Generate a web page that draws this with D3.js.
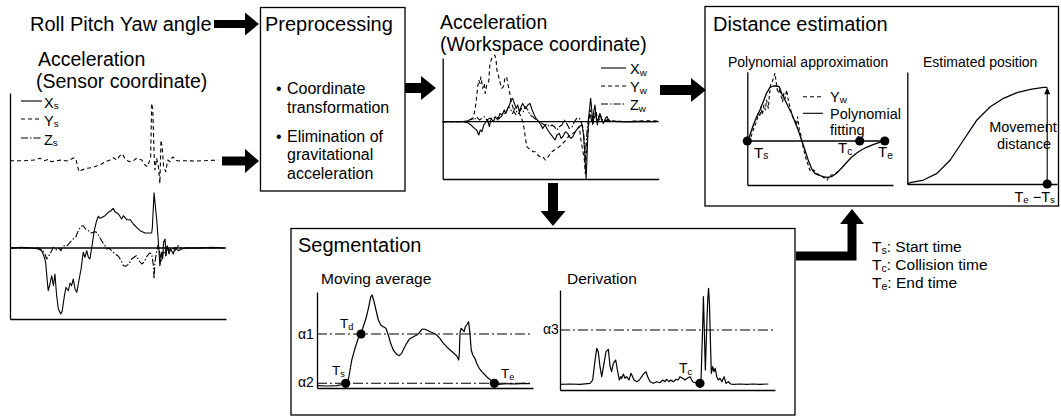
<!DOCTYPE html>
<html>
<head>
<meta charset="utf-8">
<script src="https://cdn.jsdelivr.net/npm/d3@7"></script>
<style>
body { margin: 0; background: #fff; }
svg { display: block; font-family: "Liberation Sans", Arial, Helvetica, sans-serif; }
</style>
</head>
<body>
<svg></svg>
<script>
// ---- data (time 0..100, value in arbitrary units) ----
let xsSensor = [[0,0],[5.4,0.7],[10,0],[13.1,-1],[14.7,-2.7],[15.9,-9.3],[16.5,-14.3],[17.3,-34.3],[17.7,-42.7],[18.5,-36],[19.3,-27.7],[20.1,-37.7],[20.8,-26],[21.6,-47.7],[22.4,-61],[23.5,-66],[24.2,-62.7],[25.2,-47.7],[25.9,-39.3],[27,-42.7],[27.8,-35],[28.5,-37.7],[29.3,-31],[30.1,-41],[30.9,-44.3],[31.9,-32.7],[32.9,-21],[33.9,-4.3],[34.7,-9.3],[35.5,-2.7],[36.3,-9.3],[37,-11],[38.1,4],[39,17.3],[40.1,27.3],[40.9,31.7],[41.7,29.7],[42.7,30.7],[44,32.3],[45.5,35.7],[46.8,37.3],[47.8,39.7],[48.6,36.3],[50.2,34],[51.7,29],[52.5,32.3],[54,28.3],[55.6,28.3],[57.1,24],[58.6,20.7],[60.2,17.3],[62.5,15],[65.6,15],[65.9,20.7],[66.7,55.3],[67.1,45.7],[67.9,29],[68.7,5.7],[69.1,-7.7],[69.4,-17.7],[70.2,-4.3],[70.7,-11],[71.1,5.7],[71.8,9],[72.2,-7.7],[72.8,2.3],[73.6,-6],[74.4,-1],[75.6,-6],[76.4,0.7],[77.9,-2.7],[79.5,-1],[81.8,0],[87.2,0],[93.4,0.7],[98.8,0]];
let ysSensor = [[0,0.3],[6.9,0.3],[11.6,1],[13.9,2.7],[15.9,0.3],[17.7,1.7],[19.3,-0.7],[21.6,0.3],[23.9,1],[26.2,0],[28.5,2],[29.6,3.3],[30.6,1],[31.9,-10.7],[33.2,-9],[35.5,-7.3],[37.8,-6.7],[40.1,-5],[42.4,-3],[44,-0.7],[46.3,1],[47.8,3.3],[49.4,1],[50.9,5.3],[52,7],[53.2,2.7],[55.1,-0.7],[57.1,0.3],[58.6,2.7],[61,1],[62.5,-4],[63.7,-5.7],[64.4,-0.7],[65.1,2.7],[65.6,57.7],[66.1,51],[66.7,7.7],[67.1,-9],[67.9,2.7],[68.7,-5.7],[69.4,-22.3],[69.9,21],[70.5,12.7],[71.1,-5.7],[72.1,-10.7],[73,1],[74.1,-0.7],[74.8,2.7],[75.6,4],[76.4,1],[77.9,0],[81,0.3],[85.6,0],[90.3,0.3],[96.4,1]];
let zsSensor = [[0,0],[13.1,0],[14.7,-1.7],[16.2,-6],[17,-11],[18.5,-6],[19.3,-2.7],[20.1,0.7],[20.8,-0.3],[21.6,-1.7],[22.7,-0.3],[23.6,-2.7],[24.2,0.7],[25.2,2.3],[26.2,1.7],[27.8,5.7],[29.3,9],[30.4,10.7],[31.6,17.3],[32.9,21.7],[33.9,22.3],[35,19],[36.3,17.3],[37.5,15],[38.6,15.7],[39.7,16.3],[40.9,13],[42.4,7.3],[44,2.3],[44.8,-1],[45.8,-0.3],[47.1,-2.7],[48.6,-6],[50.2,-8.3],[51.7,-13.7],[52.5,-17.7],[53.5,-18.3],[55.1,-16],[56.3,-11],[57.4,-9.3],[58.5,-7.7],[59.7,-12.7],[61,-16],[62,-14.3],[63.6,-7.7],[64.7,-5],[65.6,-6],[66.4,-17.7],[66.7,-31],[67.1,-14.3],[67.9,-2.7],[68.7,4],[69.4,-6],[70.2,-12.7],[71,-2.7],[72.1,-7.7],[72.8,2.3],[73.6,-2.7],[74.8,0.7],[76.4,-2.7],[77.9,2.3],[79.5,0],[84.1,0],[98.8,0]];
let ysOffset = 87; // Ys is drawn shifted above the other two

let xwWork = [[0,0],[9.3,0],[11.6,-1],[13.1,-3.3],[14.7,-6.7],[15.7,-8.3],[16.7,-13.3],[17.4,-8.3],[18.2,-10],[19,-3.3],[20.1,0],[20.8,1.7],[21.6,-5],[22.4,3.3],[23.5,0],[24.4,5],[25.5,1.7],[26.5,8.3],[27.5,6.7],[28.5,11.7],[29.3,8.3],[30.1,13.3],[30.9,16.7],[31.6,21.7],[32.4,23.3],[33.2,18.3],[34,13.3],[34.7,16.7],[35.5,10],[36.3,15],[37,18.3],[38.3,13.3],[39.4,16.7],[40.4,18.3],[41.4,11.7],[42.4,6.7],[43.2,3.3],[44.4,0],[45.5,-3.3],[46.3,-6.7],[47.4,-3.3],[48.6,-8.3],[49.7,-11.7],[50.9,-15],[52,-18.3],[52.9,-13.3],[54,-11.7],[54.8,-16.7],[55.6,-15],[56.8,-10],[57.9,-11.7],[58.6,-15],[59.4,-16.7],[60.2,-15],[61.4,-10],[62.5,-6.7],[63.6,-4.3],[64.5,-3.3],[65.1,-11.7],[65.7,-28.3],[66,-41.7],[66.4,-56.7],[66.7,-41.7],[67.1,-18.3],[67.6,5],[68.1,15],[68.5,23.3],[69,11.7],[69.4,-1.7],[69.9,10],[70.5,16.7],[71,5],[71.6,-3.3],[72.2,5],[72.8,8.3],[73.6,1.7],[74.4,-1.7],[75.3,3.3],[76.1,5],[77.2,0],[78.7,0.7],[83.3,0],[89.5,0.3],[98.8,0]];
let ywWork = [[0,0],[6.2,0],[12.3,0.7],[13.9,3.3],[14.6,8.3],[15.4,18.3],[16.2,35],[16.7,41.7],[17.3,38.3],[17.7,45],[18.5,33.3],[19.3,38.3],[19.7,28.3],[20.4,36.7],[21.3,40],[21.9,58.3],[22.7,63.3],[23.4,65],[24.1,66.7],[24.7,61.7],[25.1,51.7],[25.9,45],[26.7,38.3],[27.3,33.3],[28.1,35],[28.8,43.3],[29.6,45],[30.1,38.3],[30.8,31.7],[31.6,21.7],[32.4,15],[33.1,10],[33.9,6.7],[34.7,8.3],[35.5,8.3],[36.3,5],[37.3,-1.7],[38.1,-13.3],[38.9,-25],[39.8,-26.7],[40.9,-28.3],[41.9,-30],[42.9,-30],[44,-33.3],[45,-35],[46.3,-35],[47.5,-38.3],[48.3,-36.7],[49.4,-33.3],[50.6,-30],[51.7,-28.3],[52.8,-26.7],[54,-25],[55.2,-22.3],[56.3,-20],[57.4,-18.3],[58.3,-14.3],[59.4,-13.3],[60.2,-11.7],[61.4,-10],[62.5,-6.7],[63.2,-5],[64,-18.3],[64.8,-28.3],[65.6,-38.3],[66,-51.7],[66.5,-31.7],[66.9,-18.3],[67.4,-8.3],[67.9,5],[68.3,11.7],[69,6.7],[69.7,-1.7],[70.4,5],[71,10],[71.8,1.7],[72.5,1.7],[73.3,5],[74.1,0],[75.6,1.7],[77.1,0],[80.2,0.7],[84.9,0],[89.5,0.7],[95.6,1],[99.5,0.7]];
let zwWork = [[0,0],[10.8,0],[12.3,1.7],[13.6,3.3],[14.7,1.7],[15.7,5],[17,1.7],[18.2,3.3],[19.3,5],[20.4,1.7],[21.6,3.3],[23.1,3.3],[24.7,5],[26.2,3.3],[27.8,6.7],[29.3,10],[30.6,15],[31.6,11.7],[32.4,8.3],[33.3,13.3],[34.3,10],[35.2,8.3],[36.3,13.3],[37.3,10],[38.3,15],[39.4,11.7],[40.4,6.7],[41.7,5],[43.2,1.7],[44.8,0],[46,-1.7],[47.1,-3.3],[48.3,-2.3],[49.4,-5],[50.6,-3.3],[51.7,-5],[52.8,-8.3],[54,-5],[55.2,-3.3],[56.3,1.7],[57.4,-1.7],[58.6,-6.7],[59.9,-5],[61,0],[62,3.3],[63.3,3.3],[64,0],[64.8,-5],[65.4,-15],[65.9,-38.3],[66.4,-21.7],[67,-5],[67.6,5],[68.2,8.3],[68.8,1.7],[69.4,-3.3],[70.1,5],[70.7,10],[71.5,0],[72.2,3.3],[73,6.7],[73.8,1.7],[74.8,0],[76.4,2.3],[77.9,0.7],[80.2,0],[86.4,0],[98.8,0.3]];

let ywPoly = [[0,0],[1.9,1],[3.9,9.3],[5.6,16],[6.8,19.3],[8,27.7],[9.2,24.3],[9.9,34.3],[10.9,26],[12.1,36],[13.1,31],[14,41],[15.3,32.7],[16,44.3],[16.9,56],[17.9,57.7],[18.9,62.7],[20.1,67.7],[20.8,61],[21.8,51],[22.8,47.7],[23.7,52.7],[24.7,44.3],[25.7,39.3],[26.6,47.7],[27.6,42.7],[28.6,51],[29.8,41],[31,34.3],[32.2,27.7],[33.4,22.7],[34.6,21],[35.8,16],[36.6,24.3],[37.8,11],[38.7,7.7],[39.9,-2.3],[41.2,-9],[42.6,-17.3],[44.3,-24],[45.5,-29],[46.7,-30.7],[48.4,-29],[50.4,-32.3],[52.3,-34],[54.7,-35.7],[56.4,-37.3],[58.1,-39],[59.5,-35],[61.2,-34],[63.7,-34],[65.4,-30.7],[66.8,-32.3]];
let polyFit = [[0,0],[1.9,6],[4.4,16],[6.8,24.3],[9.2,31],[11.6,39.3],[14,47.7],[16.5,53.7],[18.9,55],[21.3,55],[23.2,54.3],[24.9,47.7],[27.4,41],[29.8,34.3],[32.2,27.7],[34.6,19.3],[37,11],[39.5,1],[41.9,-9],[44.3,-19],[46.7,-27.3],[49.1,-32.3],[51.6,-34],[55.2,-35.7],[58.1,-36.3],[61.2,-35.7],[64.9,-32.3],[68.5,-27.3],[72.1,-21.7],[75.8,-16.3],[79.4,-12.3],[83,-9],[86.7,-6.3],[91.5,-3.7],[96.3,-1.3],[100,0]];
let polyEvents = [["s", 0], ["c", 81.8], ["e", 100]];

let position = [[0,0],[2.1,1.4],[11.6,4.1],[21.2,11],[30.7,24.8],[40.2,45.5],[49.8,66.2],[59.3,79.9],[68.8,88.6],[78.4,94.4],[87.9,97.9],[97.4,100],[100,100]];
let distanceEnd = 100;

let movingAvg = [[0,2.3],[4.5,2],[9.1,2.3],[13.3,4],[14.5,8],[15.3,18],[16.1,28],[17.6,39.7],[19.1,49.7],[20.4,54],[21.4,61.3],[22.7,69.7],[23.8,79.7],[24.9,91.3],[25.5,93],[26.4,86.3],[27.3,78],[28.4,68],[29.5,63],[30.7,61.3],[31.9,59.7],[33,53],[34.1,44.7],[35.3,38],[36.9,33.7],[38.1,32.3],[39.2,34.7],[40.3,39.7],[41.5,44.7],[42.7,48.7],[44.6,51.3],[46.2,53],[47.4,55.3],[48.5,58.7],[49.5,59],[50.8,58],[52.3,56.3],[54.2,54.7],[55.4,53],[56.9,49.7],[58.5,44.7],[60,41.3],[61.6,38],[63.4,34.7],[64.7,32],[65.6,28],[65.9,34.7],[66.2,54.7],[66.7,59.7],[67.5,58],[68.1,56.3],[68.7,61.3],[69.3,63],[70.2,66.3],[70.8,54.7],[71.4,38],[72.1,33],[73.1,29.7],[73.9,24.7],[75.1,19.7],[76.3,16.3],[77.8,13],[79.3,9.7],[80.9,7.3],[82.1,4.7],[83.9,3.7],[86.3,4],[89.4,4.3],[92.5,4],[95.5,4.7],[98.6,4.3]];
let alpha1 = 54, alpha2 = 4.7;
let segEvents = [["s", 13.3, alpha2], ["d", 20.4, alpha1], ["e", 82.1, alpha2]];

let derivation = [[0,5.7],[4.7,6],[9.3,5.7],[14,6.7],[15.2,10],[16.3,30],[17.1,41.7],[17.8,38.3],[18.6,23.3],[19.4,13.3],[20.2,23.3],[21.4,38.3],[22.5,40.7],[23.3,23.3],[24,18.3],[24.8,26.7],[25.9,30],[26.7,20],[27.6,10],[28.2,13.3],[28.7,11.7],[29.5,16],[30.2,11.7],[31,13.3],[32.1,10],[33,16.7],[33.8,13.3],[34.4,10],[35.7,8.3],[36.9,10],[38,13.3],[39.1,16.7],[40,18.3],[40.8,13.3],[41.9,8.3],[43.4,6.7],[45,8.3],[46.5,7.3],[47.8,10],[48.8,8.3],[49.6,10.7],[50.7,8.3],[51.5,10],[52.7,8.3],[54,10.7],[55,10],[55.8,13.3],[57.1,11.7],[58.1,10],[59.2,11.7],[60.5,13.3],[61.7,8.3],[62.8,7.3],[63.9,8.3],[64.8,6.7],[65.6,10],[66.4,66.7],[66.7,93.3],[67,70],[67.6,20],[68.2,60],[68.7,90],[69.1,101.7],[69.5,86.7],[69.9,53.3],[70.4,16.7],[71,23.3],[71.6,18.3],[72.2,21.7],[72.9,13.3],[73.6,10],[74.4,11.7],[75.3,8.3],[76.3,13.3],[77.2,6.7],[78.3,8.3],[79.4,6],[80.6,5.7],[83.7,6],[86.8,5.7],[89.9,6],[93,5.7],[96.9,6]];
let alpha3 = 60;
let collision = [65.1, 6.7];

let bullets = [["Coordinate", "transformation"], ["Elimination of", "gravitational", "acceleration"]];
let timeLegend = [["s", "Start time"], ["c", "Collision time"], ["e", "End time"]];

// ---- drawing ----
let width = 1061, height = 420;
let svg = d3.select("svg")
    .attr("width", width)
    .attr("height", height)
    .attr("viewBox", "0 0 " + width + " " + height);

function frame(x, y) {
    svg.append("g")
        .attr("transform", "translate(" + x.range()[0] + ",0)")
        .call(d3.axisLeft(y).tickValues([]).tickSizeOuter(0))
        .select(".domain").attr("stroke-width", 1.3);
    svg.append("g")
        .attr("transform", "translate(0," + y.range()[0] + ")")
        .call(d3.axisBottom(x).tickValues([]).tickSizeOuter(0))
        .select(".domain").attr("stroke-width", 1.3);
}

function trace(data, x, y, dash, off, w) {
    svg.append("path")
        .datum(data)
        .attr("d", d3.line().x(d => x(d[0])).y(d => y(d[1] + (off || 0))))
        .attr("fill", "none")
        .attr("stroke", "#000")
        .attr("stroke-width", w || 1.1)
        .attr("stroke-linejoin", "round")
        .attr("stroke-dasharray", dash || null);
}

function hline(x0, x1, yy, dash, w) {
    svg.append("line")
        .attr("x1", x0).attr("x2", x1)
        .attr("y1", yy).attr("y2", yy)
        .attr("stroke", "#000")
        .attr("stroke-width", w || 1.2)
        .attr("stroke-dasharray", dash || null);
}

function dot(cx, cy) {
    svg.append("circle").attr("cx", cx).attr("cy", cy).attr("r", 4.6).attr("fill", "#000");
}

// segments starting with "_" are subscripts
function rich(x, y, size, segs, anchor) {
    let t = svg.append("text")
        .attr("x", x).attr("y", y)
        .attr("font-size", size)
        .attr("text-anchor", anchor || "start")
        .attr("fill", "#000");
    let down = false;
    segs.forEach(s => {
        let sub = s[0] == "_";
        let sp = t.append("tspan").text(sub ? s.slice(1) : s);
        if (sub) sp.attr("font-size", size * 0.68);
        if (sub && !down) { sp.attr("dy", 1.5); down = true; }
        else if (!sub && down) { sp.attr("dy", -1.5); down = false; }
    });
    return t;
}

function box(x0, y0, x1, y1) {
    svg.append("rect")
        .attr("x", x0).attr("y", y0)
        .attr("width", x1 - x0).attr("height", y1 - y0)
        .attr("fill", "none").attr("stroke", "#000").attr("stroke-width", 1.3);
}

function blockArrow(pts, sw, hw, hl) {
    let n = pts.length, a = pts[n - 2], b = pts[n - 1];
    let len = Math.hypot(b[0] - a[0], b[1] - a[1]);
    let ux = (b[0] - a[0]) / len, uy = (b[1] - a[1]) / len;
    let bx = b[0] - ux * hl, by = b[1] - uy * hl;
    svg.append("path")
        .attr("d", d3.line()(pts.slice(0, n - 1).concat([[bx, by]])))
        .attr("fill", "none").attr("stroke", "#000")
        .attr("stroke-width", sw).attr("stroke-linejoin", "miter");
    svg.append("path")
        .attr("d", d3.line()([[bx - uy * hw / 2, by + ux * hw / 2], b, [bx + uy * hw / 2, by - ux * hw / 2]]) + "Z")
        .attr("fill", "#000");
}

let dashY = "4,3", dashZ = "7,2,1.5,2", dashAlpha = "10,3,2,3";

// Roll pitch yaw
rich(30, 31, 20, ["Roll Pitch Yaw angle"]);
blockArrow([[214, 24], [259, 24]], 8, 23, 14);

// Sensor coordinate plot
rich(38, 66, 19.5, ["Acceleration"]);
rich(36, 88, 19.5, ["(Sensor coordinate)"]);
let xS = d3.scaleLinear().domain([0, 100]).range([10, 226]);
let yS = d3.scaleLinear().domain([-71, 155]).range([319, 93]);
frame(xS, yS);
hline(xS(0), xS(100), yS(0), null, 1.3);
trace(xsSensor, xS, yS);
trace(zsSensor, xS, yS, dashZ);
trace(ysSensor, xS, yS, dashY, ysOffset);
[["X", 101, null], ["Y", 119, dashY], ["Z", 138, dashZ]].forEach((d, i) => {
    hline(21, 42, d[1], d[2], 1.1);
    rich(44, d[1] + 6.5, 14.5, [d[0], "_s"]);
});
blockArrow([[222, 161], [259, 161]], 9, 24, 14);

// Preprocessing
box(260.5, 7.5, 405, 191);
rich(265, 30.5, 20, ["Preprocessing"]);
let by0 = 94.3;
bullets.forEach((lines, i) => {
    let yb = by0 + i * 47.4;
    svg.append("text").attr("x", 276).attr("y", yb).attr("font-size", 16).text("\u2022");
    lines.forEach((ln, j) => rich(287, yb + j * 18.7, 16, [ln]));
});
blockArrow([[405, 88], [436, 88]], 10, 24, 15);

// Workspace coordinate plot
rich(440, 29, 19.5, ["Acceleration"]);
rich(440, 50.8, 19.5, ["(Workspace coordinate)"]);
let xW = d3.scaleLinear().domain([0, 100]).range([442.7, 658.7]);
let yW = d3.scaleLinear().domain([-57.3, 63.7]).range([179, 58]);
frame(xW, yW);
hline(xW(0), xW(100), yW(0), null, 1.3);
trace(zwWork, xW, yW, dashZ);
trace(ywWork, xW, yW, dashY);
trace(xwWork, xW, yW);
[["X", 68, null], ["Y", 86, dashY], ["Z", 104, dashZ]].forEach(d => {
    hline(601, 626, d[1], d[2], 1.1);
    rich(630, d[1] + 6, 14.5, [d[0], "_w"]);
});
blockArrow([[660, 90], [706, 90]], 10, 24, 15);
blockArrow([[553, 183], [553, 226]], 10, 25, 15);

// Distance estimation
box(705, 6.5, 1058.5, 206);
rich(713, 30.5, 20, ["Distance estimation"]);
rich(728, 66.5, 14, ["Polynomial approximation"]);
rich(923, 66.5, 14, ["Estimated position"]);
let xP = d3.scaleLinear().domain([0, 106]).range([747.3, 893]);
let yP = d3.scaleLinear().domain([-44, 69.3]).range([185, 71.7]);
frame(xP, yP);
hline(xP(0), xP(100), yP(0), null, 1.3);
trace(ywPoly, xP, yP, "3.5,2.5");
trace(polyFit, xP, yP, null, 0, 1.3);
polyEvents.forEach(d => dot(xP(d[1]), yP(0)));
rich(754, 157.5, 15, ["T", "_s"]);
rich(838, 153, 15, ["T", "_c"]);
rich(878, 157, 15, ["T", "_e"]);
hline(803, 823, 96.7, "4,3", 1.1);
rich(830, 101.7, 14.5, ["Y", "_w"]);
hline(803, 823, 113.3, null, 1.1);
rich(830, 119, 14.5, ["Polynomial"]);
rich(830, 134.5, 14.5, ["fitting"]);

let xE = d3.scaleLinear().domain([0, 107]).range([907.3, 1057]);
let yE = d3.scaleLinear().domain([0, 115.8]).range([184, 72]);
frame(xE, yE);
trace(position, xE, yE, null, 0, 1.3);
svg.append("line")
    .attr("x1", xE(distanceEnd)).attr("x2", xE(distanceEnd))
    .attr("y1", yE(0)).attr("y2", yE(100) + 5)
    .attr("stroke", "#000").attr("stroke-width", 1.1);
svg.append("path")
    .attr("d", d3.line()([[xE(distanceEnd) - 3, yE(100) + 7], [xE(distanceEnd), yE(100)], [xE(distanceEnd) + 3, yE(100) + 7]]) + "Z")
    .attr("fill", "#000");
dot(xE(distanceEnd), yE(0));
rich(1023, 131.5, 14.5, ["Movement"], "middle");
rich(1024, 148.5, 14.5, ["distance"], "middle");
rich(1055, 201.5, 14.5, ["T", "_e", " \u2212T", "_s"], "end");

// Segmentation
box(291, 228.5, 795, 415);
rich(298, 251.5, 20, ["Segmentation"]);
rich(321, 284, 15.5, ["Moving average"]);
let xM = d3.scaleLinear().domain([0, 100]).range([317, 533]);
let yM = d3.scaleLinear().domain([0, 96]).range([388, 292]);
frame(xM, yM);
hline(xM(0), xM(100), yM(alpha1), dashAlpha, 1.1);
hline(xM(0), xM(100), yM(alpha2), dashAlpha, 1.1);
trace(movingAvg, xM, yM, null, 0, 1.2);
segEvents.forEach(d => dot(xM(d[1]), yM(d[2])));
rich(298, 338.5, 14, ["\u03B11"]);
rich(298, 387, 14, ["\u03B12"]);
rich(340, 328, 13.5, ["T", "_d"]);
rich(332, 375, 13.5, ["T", "_s"]);
rich(501, 378.3, 13.5, ["T", "_e"]);

rich(567, 284, 15.5, ["Derivation"]);
let xD = d3.scaleLinear().domain([0, 100]).range([560, 775]);
let yD = d3.scaleLinear().domain([0, 100]).range([390, 290]);
frame(xD, yD);
hline(xD(0), xD(100), yD(alpha3), dashAlpha, 1.1);
trace(derivation, xD, yD, null, 0, 1.2);
dot(xD(collision[0]), yD(collision[1]));
rich(543, 334, 14, ["\u03B13"]);
rich(679, 373, 14, ["T", "_c"]);

blockArrow([[796, 256], [852, 256], [852, 209]], 9, 24, 15);

timeLegend.forEach((d, i) => rich(872, 252 + i * 18, 15.5, ["T", "_" + d[0], ": " + d[1]]));
</script>
</body>
</html>
